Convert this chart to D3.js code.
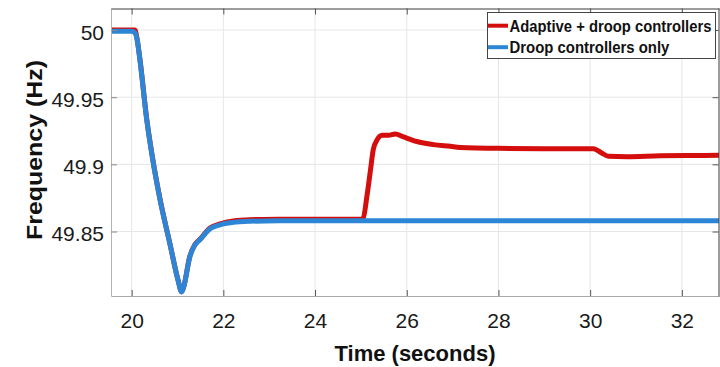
<!DOCTYPE html>
<html>
<head>
<meta charset="utf-8">
<script src="https://cdn.jsdelivr.net/npm/d3@7"></script>
<style>
  body { margin: 0; background: #fff; }
  svg { display: block; font-family: "Liberation Sans", Arial, sans-serif; }
</style>
</head>
<body>
<svg id="chart" width="720" height="367"></svg>
<script>
// Frequency response

var seriesNames = ["Adaptive + droop controllers", "Droop controllers only"];
var seriesColors = ["#d40d0d", "#2d86d5"];

// Adaptive + droop (red)
var timeAdaptive = [19.55, 20.0, 20.07, 20.12, 20.18, 20.33, 20.46, 20.62, 20.84, 21.01, 21.09,
  21.13, 21.27, 21.38, 21.49, 21.71, 21.93, 22.22, 22.58, 23.2, 24.0, 25.0, 25.05, 25.13, 25.21,
  25.27, 25.35, 25.46, 25.6, 25.75, 25.93, 26.22, 26.58, 26.95, 27.16, 28.0, 29.0, 30.07, 30.25,
  30.4, 30.8, 31.53, 32.2, 32.81];
var freqAdaptive = [50.0, 50.0, 50.0, 49.9932, 49.9785, 49.9335, 49.904, 49.874, 49.8402, 49.8142, 49.8052,
  49.8082, 49.8316, 49.8403, 49.8442, 49.8526, 49.8557, 49.8579, 49.8588, 49.8591, 49.8592, 49.8592, 49.8598, 49.876, 49.896,
  49.911, 49.918, 49.9216, 49.9216, 49.9226, 49.9204, 49.917, 49.9147, 49.9134, 49.9126, 49.9119, 49.9117, 49.9117, 49.9085,
  49.906, 49.9057, 49.9064, 49.9066, 49.9067];

// Droop only (blue)
var timeDroop = [19.55, 20.0, 20.07, 20.12, 20.18, 20.33, 20.46, 20.62, 20.84, 21.01, 21.09,
  21.13, 21.27, 21.38, 21.49, 21.71, 21.93, 22.22, 22.58, 23.2, 24.0, 26.0, 28.0, 30.0, 32.81];
var freqDroop = [49.999, 49.999, 49.998, 49.9926, 49.978, 49.933, 49.9035, 49.8736, 49.840, 49.814, 49.805,
  49.808, 49.8314, 49.840, 49.8438, 49.852, 49.855, 49.8568, 49.8576, 49.858, 49.858, 49.858, 49.858, 49.858, 49.858];

var xTicks = [20, 22, 24, 26, 28, 30, 32];
var yTicks = [49.85, 49.9, 49.95, 50];

var margin = { left: 111, right: 719, top: 8, bottom: 296 };
var svg = d3.select("#chart");

var x = d3.scaleLinear().domain([19.55, 32.81]).range([margin.left, margin.right]);
var y = d3.scaleLinear().domain([49.802, 50.0164]).range([margin.bottom, margin.top]);

// grid
svg.append("g").selectAll("line")
  .data(xTicks).enter().append("line")
    .attr("x1", function(d) { return x(d); }).attr("x2", function(d) { return x(d); })
    .attr("y1", margin.top).attr("y2", margin.bottom)
    .style("stroke", "#e6e6e6").style("stroke-width", 1);
svg.append("g").selectAll("line")
  .data(yTicks).enter().append("line")
    .attr("x1", margin.left).attr("x2", margin.right)
    .attr("y1", function(d) { return y(d); }).attr("y2", function(d) { return y(d); })
    .style("stroke", "#e6e6e6").style("stroke-width", 1);

// lines
var line = d3.line()
  .x(function(d) { return x(d[0]); })
  .y(function(d) { return y(d[1]); })
  .curve(d3.curveMonotoneX);

var series = [d3.zip(timeAdaptive, freqAdaptive), d3.zip(timeDroop, freqDroop)];
svg.append("g").selectAll("path")
  .data(series).enter().append("path")
    .attr("d", line)
    .style("fill", "none")
    .style("stroke", function(d, i) { return seriesColors[i]; })
    .style("stroke-width", 5)
    .style("stroke-linejoin", "round");

// axes (MATLAB-like box, ticks inward)
var bottomAxis = d3.axisBottom(x).tickValues(xTicks).tickSizeInner(-6).tickSizeOuter(0).tickPadding(17).tickFormat(d3.format("d"));
var leftAxis = d3.axisLeft(y).tickValues(yTicks).tickSizeInner(-6).tickSizeOuter(0).tickPadding(7).tickFormat(function(d) { return String(d); });
var topAxis = d3.axisTop(x).tickValues(xTicks).tickSizeInner(-6).tickSizeOuter(0).tickFormat("");
var rightAxis = d3.axisRight(y).tickValues(yTicks).tickSizeInner(-6).tickSizeOuter(0).tickFormat("");

var gb = svg.append("g").attr("transform", "translate(0," + margin.bottom + ")").call(bottomAxis);
var gl = svg.append("g").attr("transform", "translate(" + margin.left + ",0)").call(leftAxis);
var gt = svg.append("g").attr("transform", "translate(0," + (margin.top + 0.5) + ")").call(topAxis);
var gr = svg.append("g").attr("transform", "translate(" + (margin.right - 0.5) + ",0)").call(rightAxis);

gb.select(".domain").style("stroke", "#a8a8a8");
gl.select(".domain").style("stroke", "#b4b4b4");
gt.select(".domain").style("stroke", "#3a3a3a");
gr.select(".domain").style("stroke", "#3a3a3a");
gb.selectAll(".tick line").style("stroke", "#555");
gl.selectAll(".tick line").style("stroke", "#888");
gt.selectAll(".tick line").style("stroke", "#555");
gr.selectAll(".tick line").style("stroke", "#555");

gb.selectAll("text").style("font-size", "21px").style("fill", "#1a1a1a");
gl.selectAll("text").style("font-size", "21px").style("fill", "#1a1a1a").attr("dy", "0.45em");

// axis titles
svg.append("text")
  .attr("x", 415).attr("y", 361)
  .attr("text-anchor", "middle")
  .style("font-size", "22px").style("font-weight", "bold").style("fill", "#111")
  .text("Time (seconds)");

svg.append("text")
  .attr("transform", "translate(42,150) rotate(-90)")
  .attr("text-anchor", "middle")
  .attr("textLength", 180).attr("lengthAdjust", "spacingAndGlyphs")
  .style("font-size", "22px").style("font-weight", "bold").style("fill", "#111")
  .text("Frequency (Hz)");

// legend
var legend = svg.append("g");
legend.append("rect")
  .attr("x", 487.5).attr("y", 12.5).attr("width", 228).attr("height", 46)
  .style("fill", "#fff").style("stroke", "#444").style("stroke-width", 1);
var textWidths = [202, 160];
var rows = legend.selectAll("g.row")
  .data(seriesNames).enter().append("g")
    .attr("class", "row")
    .attr("transform", function(d, i) { return "translate(0," + (i * 21.5) + ")"; });
rows.append("line")
  .attr("x1", 488).attr("x2", 508).attr("y1", 25.7).attr("y2", 25.7)
  .style("stroke", function(d, i) { return seriesColors[i]; })
  .style("stroke-width", 4);
// the reference legend text is squeezed sideways, so scale it to the measured width
rows.append("text")
  .style("font-size", "17px").style("font-weight", "bold").style("fill", "#111")
  .text(function(d) { return d; })
  .attr("transform", function(d, i) {
    var w = this.getComputedTextLength();
    return "translate(509.5,31.8) scale(" + (textWidths[i] / w) + ",1)";
  });
</script>
</body>
</html>
